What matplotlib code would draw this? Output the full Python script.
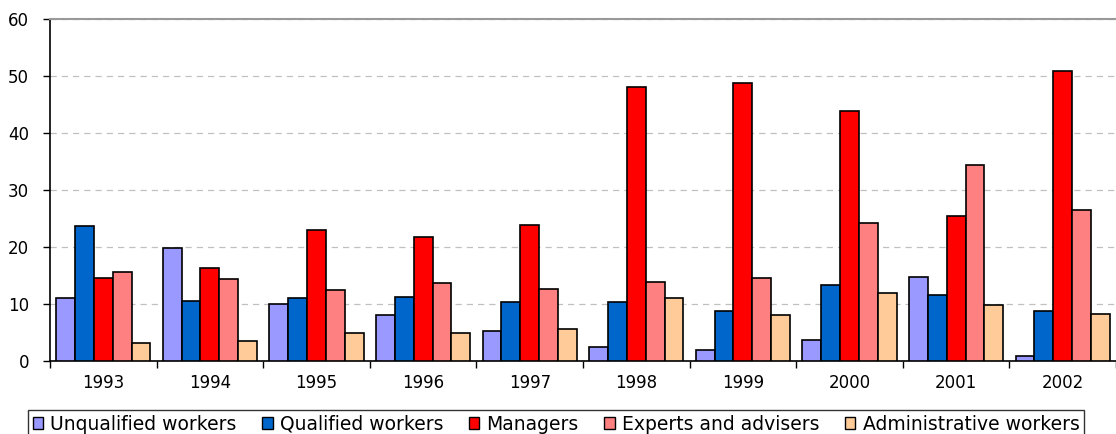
#!usr/bin/python
"""Grouped bar chart: staff categories by year, 1993-2002."""
import matplotlib.pyplot as plt
from matplotlib.patches import Patch
import numpy as np

plt.rcParams['font.family'] = ['DejaVu Sans']

years = ['1993', '1994', '1995', '1996', '1997', '1998', '1999', '2000', '2001', '2002']
series_names = ['Unqualified workers', 'Qualified workers', 'Managers',
                'Experts and advisers', 'Administrative workers']
unqualified = [11.0, 19.9, 10.0, 8.0, 5.3, 2.5, 2.0, 3.7, 14.8, 0.8]
qualified = [23.7, 10.5, 11.0, 11.2, 10.3, 10.3, 8.7, 13.4, 11.5, 8.7]
managers = [14.5, 16.4, 23.0, 21.8, 23.9, 48.0, 48.7, 43.9, 25.5, 50.8]
experts = [15.6, 14.3, 12.4, 13.6, 12.7, 13.8, 14.6, 24.2, 34.3, 26.5]
administrative = [3.2, 3.5, 4.9, 4.9, 5.6, 11.0, 8.0, 12.0, 9.8, 8.2]
colours = ['#9999FF', '#0066CC', '#FF0000', '#FF8080', '#FFCC99']


def main():
    fig = plt.figure(figsize=(11.16, 4.34), dpi=100)
    ax = fig.add_axes([50 / 1116, 1 - 361 / 434, 1 - 50 / 1116, (361 - 19) / 434])

    data = [unqualified, qualified, managers, experts, administrative]
    x = np.arange(len(years))
    width = 0.177
    for i, vals in enumerate(data):
        ax.bar(x + (i - 2) * width, vals, width, color=colours[i],
               edgecolor='black', linewidth=1.2, zorder=3)

    ax.set_ylim(0, 60)
    ax.set_yticks(range(0, 61, 10))
    ax.set_xlim(-0.5, 9.425)
    ax.set_xticks(x)
    ax.set_xticklabels(years)
    ax.set_xticks(np.arange(-0.5, 10, 1), minor=True)
    ax.tick_params(axis='x', which='major', length=0, pad=9, labelsize=12)
    ax.tick_params(axis='x', which='minor', length=5, width=1, direction='out')
    ax.tick_params(axis='y', length=5, width=1, direction='out', labelsize=12, pad=10)

    ax.yaxis.grid(True, linestyle=(0, (5, 4)), color='#c0c0c0', linewidth=0.9, zorder=0)
    for side in ('left', 'bottom'):
        ax.spines[side].set_color('black')
        ax.spines[side].set_linewidth(1.2)
    ax.spines['top'].set_color('#999999')
    ax.spines['top'].set_linewidth(1.5)
    ax.spines['right'].set_visible(False)

    handles = [Patch(facecolor=c, edgecolor='black', linewidth=1.0) for c in colours]
    leg = fig.legend(handles, series_names, loc='upper left',
                     bbox_to_anchor=(28 / 1116, 1 - 410 / 434), ncol=5,
                     fontsize=13.5, frameon=True, fancybox=False, borderpad=0.25,
                     handlelength=0.55, handleheight=0.55, handletextpad=0.4,
                     columnspacing=1.35, borderaxespad=0)
    leg.get_frame().set_edgecolor('black')
    leg.get_frame().set_linewidth(1.0)

    fig.savefig('out.png', dpi=100)


if __name__ == '__main__':
    main()
